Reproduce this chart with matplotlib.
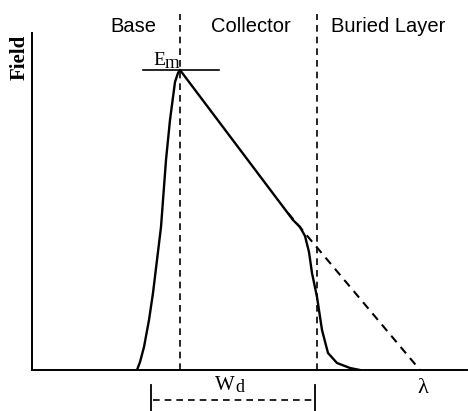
import matplotlib
matplotlib.use("Agg")
import matplotlib.pyplot as plt

# Field profile (x: depth, arbitrary units; field: arbitrary units)
depth = [105, 108, 112, 117, 121, 125, 129, 134, 138, 143, 146, 148,
         261, 268, 273, 277, 280, 285, 290, 296, 305, 318, 328]
field = [0, 8, 23, 50, 77, 110, 143, 210, 250, 288, 297, 300,
         150, 143, 134, 118, 97, 73, 40, 17, 7, 2, 0]

# Extrapolated (dashed) field line
extrap_depth = [256, 388]
extrap_field = [157, 0]

# Region boundaries
boundaries = [148, 285]
region_labels = ["Base", "Collector", "Buried Layer"]
region_centers = [101, 219, 356]

peak_field = 300
wd_span = [119, 283]
lambda_x = 391

W, H = 468, 411
fig = plt.figure(figsize=(W / 100, H / 100), dpi=100)
ax = fig.add_axes([32 / W, (H - 370) / H, 435 / W, 337 / H])
ax.set_xlim(0, 435)
ax.set_ylim(0, 337)
for s in ['top', 'right']:
    ax.spines[s].set_visible(False)
for s in ['left', 'bottom']:
    ax.spines[s].set_linewidth(1.4)
ax.set_xticks([])
ax.set_yticks([])
ax.patch.set_alpha(0)

serif = 'Liberation Serif'
dash = (0, (4, 3))
ax.plot(depth, field, color='black', lw=1.7, solid_capstyle='round')
ax.plot(extrap_depth, extrap_field, color='black', lw=1.5, linestyle=dash)

for b in boundaries:
    ax.plot([b, b], [0, 356], color='black', lw=1.2, linestyle=dash, clip_on=False)

# Em marker
ax.plot([111, 187], [peak_field, peak_field], color='black', lw=1.2)
ax.text(121, peak_field + 5, 'E', fontsize=14, family=serif, ha='left', va='baseline')
ax.text(133, peak_field + 1.5, 'm', fontsize=13.5, family=serif, ha='left', va='baseline')

# Region labels
for lab, cx in zip(region_labels, region_centers):
    ax.text(cx, 344, lab, fontsize=14.5, family='Liberation Sans', ha='center', va='center')

# Axis label
ax.text(-12, 313, 'Field', fontsize=15, family=serif, fontweight='bold',
        rotation=90, ha='center', va='center')

# Wd bracket
for xb in wd_span:
    ax.plot([xb, xb], [-15, -41], color='black', lw=1.3, clip_on=False)
ax.plot([wd_span[0] + 2, wd_span[1] - 2], [-30, -30], color='black', lw=1.2,
        linestyle=dash, clip_on=False)
ax.text(183, -20, 'W', fontsize=15, family=serif, ha='left', va='baseline')
ax.text(203, -22, 'd', fontsize=13, family=serif, ha='left', va='baseline')

# lambda
ax.text(lambda_x, -18, 'λ', fontsize=16, family=serif, ha='center', va='center')

fig.savefig('out.png', dpi=100)
